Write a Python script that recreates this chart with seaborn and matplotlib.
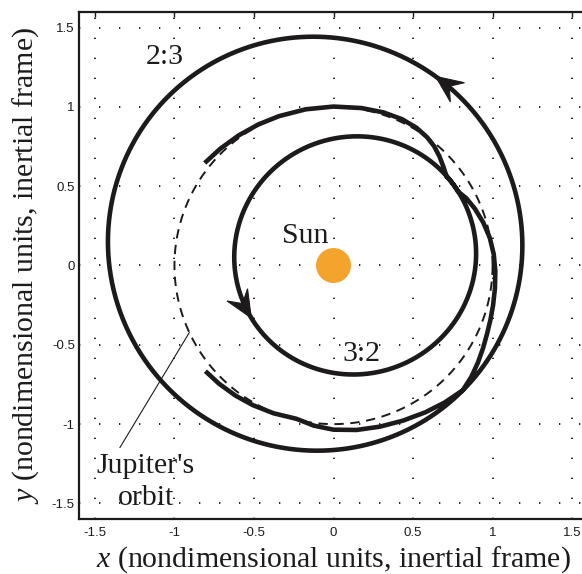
import numpy as np
import pandas as pd
import matplotlib
matplotlib.use("Agg")
import matplotlib.pyplot as plt
import seaborn as sns
from matplotlib.patches import Circle, Polygon

# Resonant orbits: semi-major axis, eccentricity, longitude of perihelion (deg)
outer_a, outer_e, outer_peri = 1.31, 0.137, -50.0    # 2:3 resonance
inner_a, inner_e, inner_peri = 0.763, 0.197, 205.0   # 3:2 resonance
outer_span = (316.0, 676.0)   # angular span traced on the 2:3 orbit
inner_span = (31.0, 398.0)    # angular span traced on the 3:2 orbit

jupiter_r = 1.0
sun_r = 0.11

# Legs of the trajectory that shadow Jupiter's orbit (polar angle in deg, radius)
leg1_theta = [219.6, 226, 233, 240, 248, 256.4, 263, 270, 278, 286, 294, 302, 309, 316]
leg1_r = [1.045, 1.036, 1.026, 1.016, 1.005, 0.994, 1.017, 1.035, 1.047, 1.057,
          1.071, 1.091, 1.111, 1.131]
leg2_theta = [316, 321, 326, 331, 336, 341, 346, 352, 358, 364, 370, 376, 382, 387, 391]
leg2_r = [1.131, 1.115, 1.095, 1.075, 1.057, 1.044, 1.034, 1.025, 1.018, 1.01,
          0.998, 0.98, 0.958, 0.936, 0.91]
leg3_theta = [38, 42, 46, 50, 54, 59, 65, 72, 80, 90, 100, 110, 118, 126, 134, 141.4]
leg3_r = [0.904, 0.93, 0.958, 0.983, 1.0, 1.013, 1.018, 1.015, 1.008, 1.002, 1.0,
          1.002, 1.007, 1.014, 1.024, 1.036]

# Direction arrows sit on the resonant orbits at these polar angles (deg)
arrow_outer_theta = 61.7
arrow_inner_theta = 212.6

tick_values = [-1.5, -1, -0.5, 0, 0.5, 1, 1.5]
tick_labels = ["-1.5", "-1", "-0.5", "0", "0.5", "1", "1.5"]

INK = "#1c1a1b"
SUN = "#F4A32C"


def conic_xy(a, e, peri, t0, t1, step=0.5):
    th = np.radians(np.arange(t0, t1 + step / 2, step))
    r = a * (1 - e ** 2) / (1 + e * np.cos(th - np.radians(peri)))
    return r * np.cos(th), r * np.sin(th)


def polar_xy(theta, r):
    th = np.radians(np.asarray(theta, float))
    r = np.asarray(r, float)
    return r * np.cos(th), r * np.sin(th)


pieces = [
    polar_xy(leg1_theta, leg1_r),
    conic_xy(outer_a, outer_e, outer_peri, *outer_span),
    polar_xy(leg2_theta, leg2_r),
    conic_xy(inner_a, inner_e, inner_peri, *inner_span),
    polar_xy(leg3_theta, leg3_r),
]
traj = pd.DataFrame({
    "x": np.concatenate([p[0] for p in pieces]),
    "y": np.concatenate([p[1] for p in pieces]),
})

jt = np.radians(np.arange(0, 360.5, 0.5))
jupiter = pd.DataFrame({"x": jupiter_r * np.cos(jt), "y": jupiter_r * np.sin(jt)})

sns.set_theme(style="white")
plt.rcParams.update({
    "font.family": ["Liberation Serif", "DejaVu Serif"],
    "mathtext.fontset": "custom",
    "mathtext.rm": "Liberation Serif",
    "mathtext.it": "Liberation Serif:italic",
    "axes.edgecolor": INK,
    "axes.linewidth": 1.6,
    "xtick.direction": "in",
    "ytick.direction": "in",
    "xtick.top": True,
    "ytick.right": True,
    "xtick.color": INK,
    "ytick.color": INK,
    "xtick.major.size": 3.5,
    "ytick.major.size": 3.5,
    "xtick.major.width": 1.0,
    "ytick.major.width": 1.0,
})

fig = plt.figure(figsize=(5.82, 5.74), dpi=100)
ax = fig.add_axes([79 / 582, (574 - 519.3) / 574, (588 - 79) / 582, (519.3 - 11.7) / 574])
ax.set_xlim(-1.6, 1.6)
ax.set_ylim(-1.6, 1.6)

ax.set_axisbelow(True)
ax.grid(True, color="black", linewidth=1.2, linestyle=(0, (0.8, 11.2)))

# Jupiter's orbit (dashed)
sns.lineplot(data=jupiter, x="x", y="y", sort=False, estimator=None, ax=ax,
             color=INK, linewidth=1.4, legend=False)
ax.lines[-1].set_linestyle((0, (4.8, 3.4)))
ax.lines[-1].set_zorder(2)

# Spacecraft trajectory
sns.lineplot(data=traj, x="x", y="y", sort=False, estimator=None, ax=ax,
             color=INK, linewidth=3.3, legend=False)
ax.lines[-1].set_zorder(3)
ax.lines[-1].set_solid_joinstyle("round")
ax.lines[-1].set_solid_capstyle("butt")


def add_arrow(a, e, peri, theta, length=0.17, half_width=0.075):
    xs, ys = conic_xy(a, e, peri, theta - 0.5, theta, step=0.5)
    tip = np.array([xs[-1], ys[-1]])
    d = tip - np.array([xs[0], ys[0]])
    d /= np.hypot(*d)
    n = np.array([-d[1], d[0]])
    back = tip - length * d
    notch = tip - 0.62 * length * d
    pts = [tip, back + half_width * n, notch, back - half_width * n]
    ax.add_patch(Polygon(pts, closed=True, facecolor=INK, edgecolor=INK,
                         linewidth=0.8, zorder=4))


add_arrow(outer_a, outer_e, outer_peri, arrow_outer_theta)
add_arrow(inner_a, inner_e, inner_peri, arrow_inner_theta)

# The Sun
ax.add_patch(Circle((0, 0), sun_r, facecolor=SUN, edgecolor="none", zorder=5))

text_kw = dict(fontsize=21.5, color=INK, family="Liberation Serif")
ax.text(-0.18, 0.143, "Sun", ha="center", va="baseline", **text_kw)
ax.text(-1.06, 1.268, "2:3", ha="center", va="baseline", **text_kw)
ax.text(0.175, -0.60, "3:2", ha="center", va="baseline", **text_kw)
ax.text(-1.184, -1.306, "Jupiter's", ha="center", va="baseline", **text_kw)
ax.text(-1.18, -1.511, "orbit", ha="center", va="baseline", **text_kw)

ptr = np.radians(205.0)
ax.annotate("", xy=(jupiter_r * np.cos(ptr), jupiter_r * np.sin(ptr)),
            xytext=(-1.343, -1.148),
            arrowprops=dict(arrowstyle="-", color=INK, lw=0.8,
                            shrinkA=0, shrinkB=0))

ax.set_xticks(tick_values)
ax.set_yticks(tick_values)
ax.set_xticklabels(tick_labels, fontsize=9.5, family="Liberation Sans")
ax.set_yticklabels(tick_labels, fontsize=9.5, family="Liberation Sans")
ax.tick_params(axis="x", pad=5.5)
ax.tick_params(axis="y", pad=3.0)

ax.set_xlabel(r"$x$ (nondimensional units, inertial frame)", fontsize=21.5, color=INK)
ax.set_ylabel(r"$y$ (nondimensional units, inertial frame)", fontsize=21.5, color=INK)
ax.xaxis.set_label_coords(0.5, -0.049)
ax.yaxis.set_label_coords(-0.0756, 0.5)

fig.savefig("out.png", dpi=100)
